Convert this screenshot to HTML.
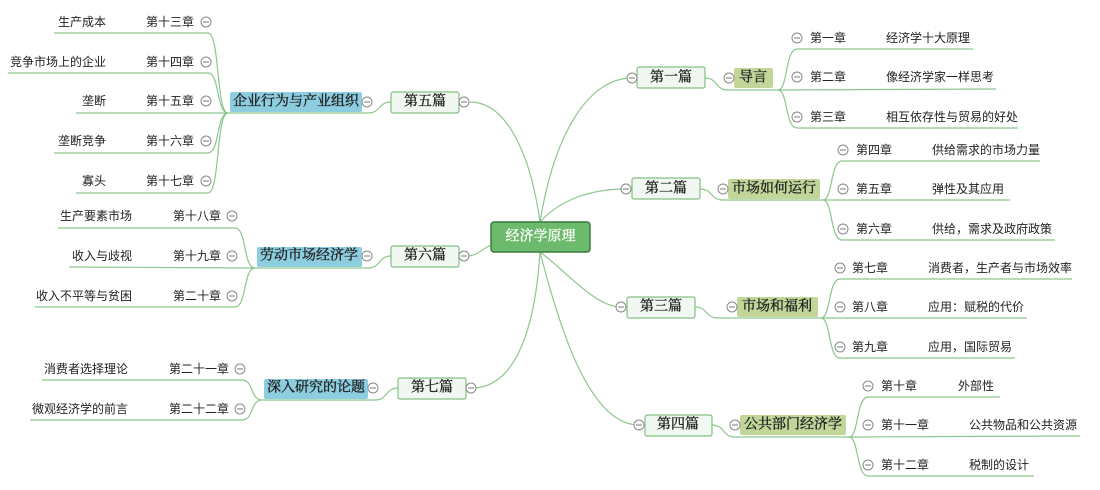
<!DOCTYPE html>
<html><head><meta charset="utf-8"><style>
html,body{margin:0;padding:0;background:#fff;width:1100px;height:490px;overflow:hidden}
svg text{font-family:"Liberation Sans","Noto Sans CJK SC",sans-serif;font-size:12px;fill:#222;dominant-baseline:central}
.s{font-family:"Liberation Serif","Noto Serif CJK SC",serif;font-size:14px;font-weight:normal;fill:#222;stroke:#222;stroke-width:0.35}
.l{fill:none;stroke:#8dc68d;stroke-width:1.2}
.c{fill:#fff;stroke:#888;stroke-width:1}
.b{fill:#f1f8f1;stroke:#82c082;stroke-width:1.2}
.g{fill:#c2d69a}
.bl{fill:#8ccde0}
</style></head><body>
<svg width="1100" height="490" viewBox="0 0 1100 490" xmlns="http://www.w3.org/2000/svg">
<defs>
<g id="m"><circle r="5" class="c"/><line x1="-3" x2="3" y1="0" y2="0" stroke="#777" stroke-width="1"/></g>
</defs>
<path class="l" d="M540,222 C555,130 590,78 632,78"/>
<path class="l" d="M540,222 C560,200 590,189 626,189"/>
<path class="l" d="M540,252 C565,270 595,307 621,307"/>
<path class="l" d="M540,252 C560,330 590,425 639,425"/>
<path class="l" d="M540,222 C530,150 505,102 470,102"/>
<path class="l" d="M491,245 C480,250 478,256 466,256"/>
<path class="l" d="M540,252 C535,330 515,388 472,388"/>

<path class="l" d="M705,78 C718,78 715,90 728,90 L778,90"/>
<path class="l" d="M778,90 C788,90 785,49 797,49 L973,49"/>
<path class="l" d="M778,90 L996,89"/>
<path class="l" d="M778,90 C788,90 785,128 797,128 L1018,128"/>
<rect x="637" y="67" width="68" height="21" rx="2" class="b"/><text x="671" y="78" class="s" text-anchor="middle">第一篇</text>
<use href="#m" x="632" y="78"/>
<rect x="734" y="68" width="39" height="20" rx="2" class="g"/><text x="753" y="78" class="s" text-anchor="middle">导言</text>
<use href="#m" x="729" y="78"/>
<use href="#m" x="797" y="38"/><text x="810" y="38">第一章</text><text x="886" y="38">经济学十大原理</text>
<use href="#m" x="797" y="77"/><text x="810" y="77">第二章</text><text x="886" y="77">像经济学家一样思考</text>
<use href="#m" x="797" y="117"/><text x="810" y="117">第三章</text><text x="886" y="117">相互依存性与贸易的好处</text>

<path class="l" d="M700,189 C713,189 710,200 723,200 L823,200"/>
<path class="l" d="M823,200 C833,200 830,161 842,161 L1040,161"/>
<path class="l" d="M823,200 L1010,200"/>
<path class="l" d="M823,200 C833,200 830,240 842,240 L1055,240"/>
<rect x="632" y="178" width="68" height="21" rx="2" class="b"/><text x="666" y="189" class="s" text-anchor="middle">第二篇</text>
<use href="#m" x="626" y="189"/>
<rect x="728" y="179" width="92" height="20" rx="2" class="g"/><text x="774" y="189" class="s" text-anchor="middle">市场如何运行</text>
<use href="#m" x="723" y="189"/>
<use href="#m" x="843" y="150"/><text x="856" y="150">第四章</text><text x="932" y="150">供给需求的市场力量</text>
<use href="#m" x="843" y="189"/><text x="856" y="189">第五章</text><text x="932" y="189">弹性及其应用</text>
<use href="#m" x="843" y="229"/><text x="856" y="229">第六章</text><text x="932" y="229">供给，需求及政府政策</text>

<path class="l" d="M695,307 C708,307 705,318 718,318 L821,318"/>
<path class="l" d="M821,318 C831,318 828,279 840,279 L1072,279"/>
<path class="l" d="M821,318 L1027,318"/>
<path class="l" d="M821,318 C831,318 828,358 840,358 L1015,358"/>
<rect x="627" y="297" width="68" height="21" rx="2" class="b"/><text x="661" y="307" class="s" text-anchor="middle">第三篇</text>
<use href="#m" x="621" y="307"/>
<rect x="737" y="297" width="81" height="20" rx="2" class="g"/><text x="777" y="307" class="s" text-anchor="middle">市场和福利</text>
<use href="#m" x="732" y="307"/>
<use href="#m" x="840" y="268"/><text x="852" y="268">第七章</text><text x="928" y="268">消费者，生产者与市场效率</text>
<use href="#m" x="840" y="307"/><text x="852" y="307">第八章</text><text x="928" y="307">应用：赋税的代价</text>
<use href="#m" x="840" y="347"/><text x="852" y="347">第九章</text><text x="928" y="347">应用，国际贸易</text>

<path class="l" d="M712,425 C725,425 722,437 735,437 L849,437"/>
<path class="l" d="M849,437 C859,437 856,397 868,397 L1000,397"/>
<path class="l" d="M849,437 L1080,436"/>
<path class="l" d="M849,437 C859,437 856,476 868,476 L1034,476"/>
<rect x="645" y="415" width="67" height="21" rx="2" class="b"/><text x="678" y="425" class="s" text-anchor="middle">第四篇</text>
<use href="#m" x="639" y="425"/>
<rect x="740" y="415" width="106" height="20" rx="2" class="g"/><text x="793" y="425" class="s" text-anchor="middle">公共部门经济学</text>
<use href="#m" x="735" y="425"/>
<use href="#m" x="868" y="386"/><text x="881" y="386">第十章</text><text x="958" y="386">外部性</text>
<use href="#m" x="868" y="425"/><text x="881" y="425">第十一章</text><text x="969" y="425">公共物品和公共资源</text>
<use href="#m" x="868" y="465"/><text x="881" y="465">第十二章</text><text x="969" y="465">税制的设计</text>

<path class="l" d="M391,102 C378,102 381,113 368,113 L228,113"/>
<path class="l" d="M228,113 C216,113 220,33 208,33 L54,33"/>
<path class="l" d="M228,113 C216,113 220,73 208,73 L8,73"/>
<path class="l" d="M228,113 L76,113"/>
<path class="l" d="M228,113 C216,113 220,153 208,153 L54,153"/>
<path class="l" d="M228,113 C216,113 220,193 208,193 L76,193"/>
<rect x="391" y="92" width="68" height="21" rx="2" class="b"/><text x="425" y="102" class="s" text-anchor="middle">第五篇</text>
<use href="#m" x="464" y="102"/>
<rect x="230" y="92" width="132" height="20" rx="2" class="bl"/><text x="296" y="102" class="s" text-anchor="middle">企业行为与产业组织</text>
<use href="#m" x="367" y="102"/>
<use href="#m" x="206" y="22"/><text x="194" y="22" text-anchor="end">第十三章</text><text x="106" y="22" text-anchor="end">生产成本</text>
<use href="#m" x="206" y="62"/><text x="194" y="62" text-anchor="end">第十四章</text><text x="106" y="62" text-anchor="end">竞争市场上的企业</text>
<use href="#m" x="206" y="101"/><text x="194" y="101" text-anchor="end">第十五章</text><text x="106" y="101" text-anchor="end">垄断</text>
<use href="#m" x="206" y="141"/><text x="194" y="141" text-anchor="end">第十六章</text><text x="106" y="141" text-anchor="end">垄断竞争</text>
<use href="#m" x="206" y="181"/><text x="194" y="181" text-anchor="end">第十七章</text><text x="106" y="181" text-anchor="end">寡头</text>

<path class="l" d="M391,256 C378,256 381,268 368,268 L255,268"/>
<path class="l" d="M255,268 C243,268 247,228 235,228 L58,228"/>
<path class="l" d="M255,268 L69,267"/>
<path class="l" d="M255,268 C243,268 247,307 235,307 L35,307"/>
<rect x="391" y="246" width="68" height="21" rx="2" class="b"/><text x="425" y="256" class="s" text-anchor="middle">第六篇</text>
<use href="#m" x="464" y="256"/>
<rect x="257" y="247" width="105" height="20" rx="2" class="bl"/><text x="309" y="256" class="s" text-anchor="middle">劳动市场经济学</text>
<use href="#m" x="367" y="256"/>
<use href="#m" x="232" y="216"/><text x="221" y="216" text-anchor="end">第十八章</text><text x="132" y="216" text-anchor="end">生产要素市场</text>
<use href="#m" x="232" y="256"/><text x="221" y="256" text-anchor="end">第十九章</text><text x="132" y="256" text-anchor="end">收入与歧视</text>
<use href="#m" x="232" y="296"/><text x="221" y="296" text-anchor="end">第二十章</text><text x="132" y="296" text-anchor="end">收入不平等与贫困</text>

<path class="l" d="M398,388 C385,388 388,400 375,400 L262,400"/>
<path class="l" d="M262,400 C250,400 254,380 242,380 L42,380"/>
<path class="l" d="M262,400 C250,400 254,420 242,420 L30,420"/>
<rect x="398" y="378" width="68" height="21" rx="2" class="b"/><text x="432" y="388" class="s" text-anchor="middle">第七篇</text>
<use href="#m" x="471" y="388"/>
<rect x="264" y="379" width="104" height="20" rx="2" class="bl"/><text x="316" y="388" class="s" text-anchor="middle">深入研究的论题</text>
<use href="#m" x="373" y="388"/>
<use href="#m" x="240" y="369"/><text x="229" y="369" text-anchor="end">第二十一章</text><text x="128" y="369" text-anchor="end">消费者选择理论</text>
<use href="#m" x="240" y="409"/><text x="229" y="409" text-anchor="end">第二十二章</text><text x="128" y="409" text-anchor="end">微观经济学的前言</text>

<rect x="491" y="222" width="99" height="30" rx="3" fill="#6cba6c" stroke="#3d7a3d" stroke-width="1.5"/>
<text x="540.5" y="237" class="s" text-anchor="middle" style="fill:#fff;stroke:#fff">经济学原理</text>
</svg>
</body></html>
